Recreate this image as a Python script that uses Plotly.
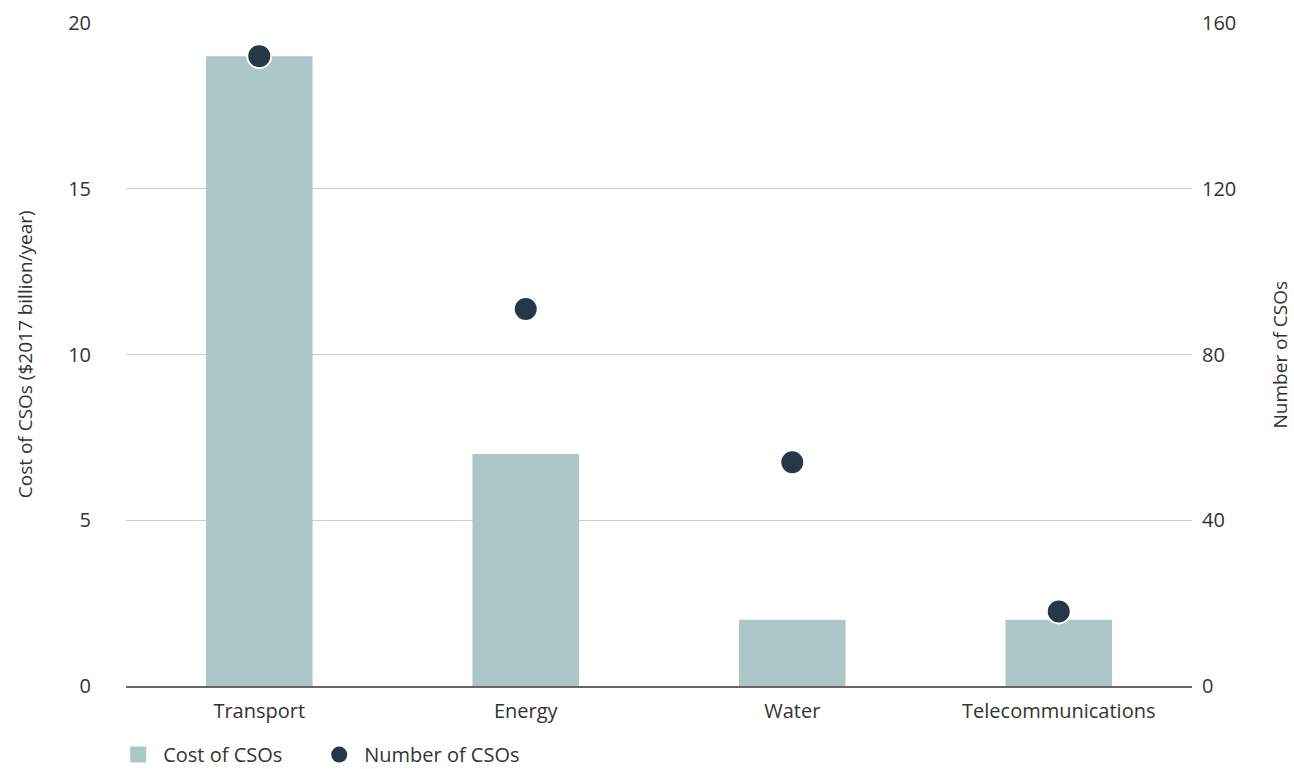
import plotly.graph_objects as go

categories = ["Transport", "Energy", "Water", "Telecommunications"]
cost = [19, 7, 2, 2]
number = [152, 91, 54, 18]

bar_color = "#adc6c8"
dot_color = "#263748"
font_family = "'Open Sans', Lato, sans-serif"
text_color = "#333333"

fig = go.Figure()
fig.add_trace(go.Bar(x=categories, y=cost, name="Cost of CSOs", showlegend=False,
                     marker=dict(color=bar_color, line=dict(width=0)), width=0.4))
fig.add_trace(go.Scatter(x=categories, y=number, name="Number of CSOs", mode="markers",
                         yaxis="y2", showlegend=False,
                         marker=dict(color=dot_color, size=24, line=dict(color="white", width=2))))
# legend entries (no visible data marks)
fig.add_trace(go.Scatter(x=[None], y=[None], name="Cost of CSOs", mode="markers",
                         legendwidth=146,
                         marker=dict(color=bar_color, symbol="square", size=24)))
fig.add_trace(go.Scatter(x=[None], y=[None], name="Number of CSOs", mode="markers",
                         legendwidth=190,
                         marker=dict(color=dot_color, symbol="circle", size=24)))

fig.update_layout(
    width=1294, height=769,
    margin=dict(l=126, r=102, t=23, b=83, autoexpand=False),
    paper_bgcolor="white", plot_bgcolor="white",
    font=dict(family=font_family, size=20, color=text_color),
    showlegend=True,
    legend=dict(orientation="h", x=-0.012, xanchor="left", y=-0.074, yanchor="top",
                font=dict(size=20, color=text_color), itemsizing="trace",
                traceorder="normal", itemwidth=40),
    xaxis=dict(showgrid=False, showline=True, linecolor="#666666", linewidth=2,
               ticks="outside", ticklen=6, tickcolor="rgba(0,0,0,0)",
               tickfont=dict(size=20, color=text_color)),
    yaxis=dict(range=[0, 20], tickvals=[0, 5, 10, 15, 20], showgrid=True,
               gridcolor="#cccccc", gridwidth=1, zeroline=False, showline=False,
               ticks="outside", ticklen=30, tickcolor="rgba(0,0,0,0)",
               tickfont=dict(size=20, color=text_color)),
    yaxis2=dict(range=[0, 160], tickvals=[0, 40, 80, 120, 160], overlaying="y",
                side="right", showgrid=False, zeroline=False, showline=False,
                ticks="outside", ticklen=5, tickcolor="rgba(0,0,0,0)",
                tickfont=dict(size=20, color=text_color)),
    annotations=[
        dict(text="Cost of CSOs ($2017 billion/year)", xref="paper", yref="paper",
             x=-0.095, y=0.5, xanchor="center", yanchor="middle", textangle=-90,
             showarrow=False, font=dict(size=19, color=text_color)),
        dict(text="Number of CSOs", xref="paper", yref="paper",
             x=1.0825, y=0.5, xanchor="center", yanchor="middle", textangle=-90,
             showarrow=False, font=dict(size=19, color=text_color)),
    ],
)

fig.write_html("out.html")
